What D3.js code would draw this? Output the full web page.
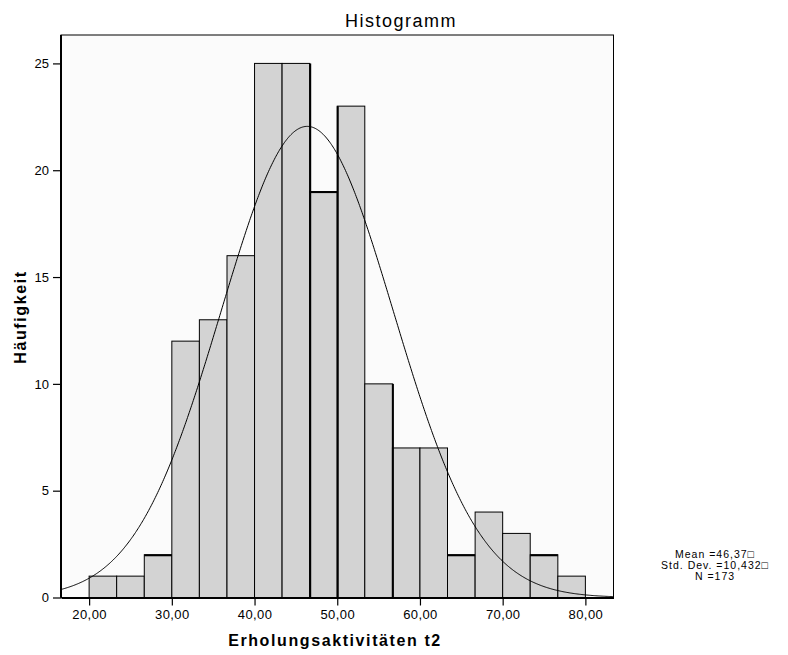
<!DOCTYPE html>
<html><head><meta charset="utf-8">
<script src="https://cdn.jsdelivr.net/npm/d3@7"></script>
<style>
html,body{margin:0;padding:0;background:#fff;}
svg{display:block;}
text{font-family:"Liberation Sans",Arial,sans-serif;fill:#000;}
</style></head>
<body>
<script>
// ---- data ----
const binEdges = [20.00, 23.33, 26.67, 30.00, 33.33, 36.67, 40.00, 43.33, 46.67, 50.00,
                  53.33, 56.67, 60.00, 63.33, 66.67, 70.00, 73.33, 76.67, 80.00];
const counts = [1, 1, 2, 12, 13, 16, 25, 25, 19, 23, 10, 7, 7, 2, 4, 3, 2, 1];
const xTicks = [20, 30, 40, 50, 60, 70, 80];
const yTicks = [0, 5, 10, 15, 20, 25];
const meanValue = 46.37;
const sdValue = 10.432;
const nValue = 173;
const statLines = ["Mean =46,37\u25A1", "Std. Dev. =10,432\u25A1", "N =173"];
const titleText = "Histogramm";
const xLabel = "Erholungsaktivitäten t2";
const yLabel = "Häufigkeit";

// ---- layout ----
const W = 788, H = 655;
const L = 61, R = 613.5, T = 35, B = 597.5;
const svg = d3.select("body").append("svg").attr("width", W).attr("height", H);

const x = d3.scaleLinear().domain([16.6, 83.4]).range([L, R]);
const y = d3.scaleLinear().domain([0, 26.33]).range([B, T]);

// plot background
svg.append("rect").attr("x", L).attr("y", T).attr("width", R - L).attr("height", B - T)
  .attr("fill", "#fbfbfb").attr("stroke", "#000").attr("stroke-width", 1);

// bars
const bars = counts.map((c, i) => ({c, x0: binEdges[i], x1: binEdges[i + 1], i}));
svg.append("g").selectAll("rect").data(bars).join("rect")
  .attr("x", d => x(d.x0)).attr("y", d => y(d.c))
  .attr("width", d => x(d.x1) - x(d.x0)).attr("height", d => y(0) - y(d.c))
  .attr("fill", "#d3d3d3").attr("stroke", "#000").attr("stroke-width", 1);

// rendering artefacts of the original (heavier edges)
const heavyTops = [2, 8, 13, 16];
const heavyEdges = [8, 9, 11];
svg.append("g").selectAll("line.ht").data(heavyTops).join("line")
  .attr("x1", i => x(binEdges[i])).attr("x2", i => x(binEdges[i + 1]))
  .attr("y1", i => y(counts[i]) + 0.5).attr("y2", i => y(counts[i]) + 0.5)
  .attr("stroke", "#000").attr("stroke-width", 2);
svg.append("g").selectAll("line.he").data(heavyEdges).join("line")
  .attr("x1", i => x(binEdges[i]) + 0.5).attr("x2", i => x(binEdges[i]) + 0.5)
  .attr("y1", i => y(Math.max(counts[i - 1], counts[i]))).attr("y2", y(0))
  .attr("stroke", "#000").attr("stroke-width", 2);

// normal curve from the reported mean, sd and N
const binW = binEdges[1] - binEdges[0];
const scaleFactor = nValue * (10 / 3) / (sdValue * Math.sqrt(2 * Math.PI));
const xs = d3.range(16.6, 83.41, 0.1);
const curve = xs.map(v => [v, scaleFactor * Math.exp(-0.5 * Math.pow((v - meanValue) / sdValue, 2))]);
svg.append("path").datum(curve)
  .attr("d", d3.line().x(d => x(d[0])).y(d => y(d[1])).curve(d3.curveLinear))
  .attr("fill", "none").attr("stroke", "#000").attr("stroke-width", 1);

// axes
const loc = d3.formatLocale({decimal: ",", thousands: ".", grouping: [3], currency: ["", "€"]});
const fmt2 = loc.format(".2f");

const xAxis = svg.append("g").attr("transform", `translate(0,${B})`)
  .call(d3.axisBottom(x).tickValues(xTicks).tickFormat(fmt2).tickSize(8).tickPadding(4).tickSizeOuter(0));
xAxis.select(".domain").attr("stroke-width", 2);
xAxis.selectAll(".tick line").attr("stroke-width", 1.2);
xAxis.selectAll("text").attr("font-size", 13).attr("font-family", "Liberation Sans, Arial, sans-serif")
  .attr("letter-spacing", 0.4);

const yAxis = svg.append("g").attr("transform", `translate(${L},0)`)
  .call(d3.axisLeft(y).tickValues(yTicks).tickFormat(d3.format("d")).tickSize(8).tickPadding(4).tickSizeOuter(0));
yAxis.select(".domain").attr("stroke-width", 2).attr("d", `M0,${T}V${B}`);
yAxis.selectAll(".tick line").attr("stroke-width", 1.2);
yAxis.selectAll("text").attr("font-size", 13).attr("font-family", "Liberation Sans, Arial, sans-serif");

// title and labels
svg.append("text").attr("x", 401).attr("y", 27).attr("text-anchor", "middle")
  .attr("font-size", 18).attr("letter-spacing", 1.5).text(titleText);
svg.append("text").attr("x", 335).attr("y", 646).attr("text-anchor", "middle")
  .attr("font-size", 16).attr("font-weight", "bold").attr("letter-spacing", 1.6).text(xLabel);
svg.append("text").attr("transform", `translate(26,317) rotate(-90)`).attr("text-anchor", "middle")
  .attr("font-size", 16).attr("font-weight", "bold").attr("letter-spacing", 1.6).text(yLabel);

// stats box
svg.append("g").selectAll("text").data(statLines).join("text")
  .attr("x", 715).attr("y", (d, i) => 558 + i * 11).attr("text-anchor", "middle")
  .attr("font-size", 10.5).attr("letter-spacing", 1).text(d => d);
</script>
</body></html>
